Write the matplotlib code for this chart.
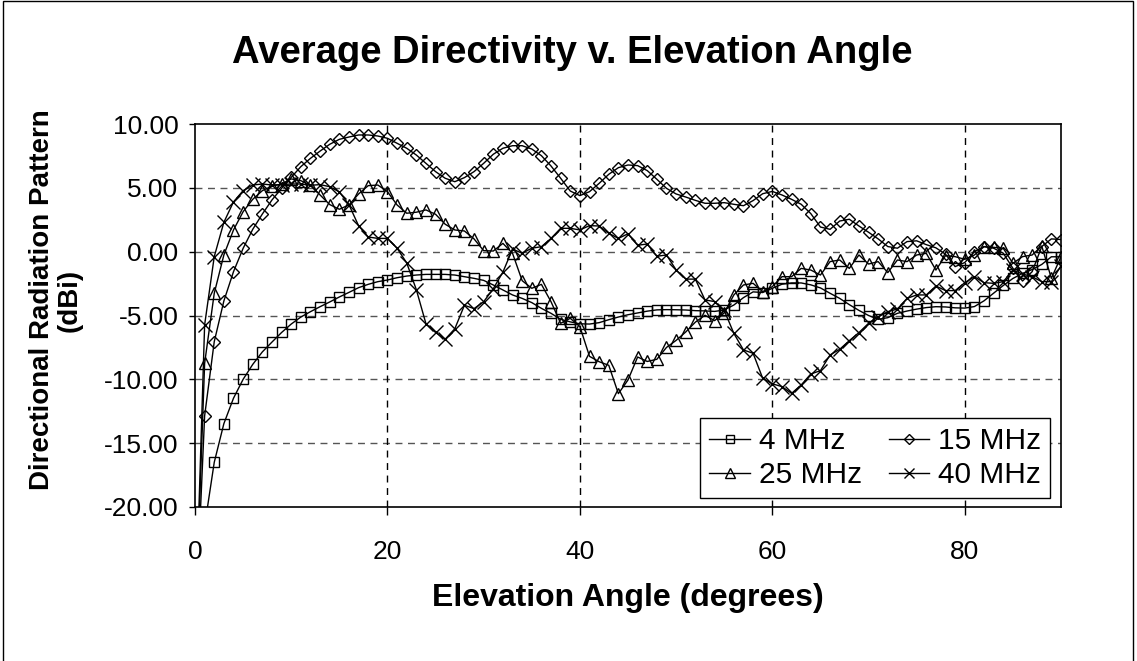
import matplotlib
matplotlib.use("Agg")
import matplotlib.pyplot as plt
from matplotlib.patches import Rectangle

plt.rcParams['font.family'] = ['Liberation Sans', 'DejaVu Sans']
plt.rcParams['axes.unicode_minus'] = False

angles = list(range(0, 91))

mhz4 = [-35, -21.5, -16.5, -13.47, -11.48, -10.0, -8.83, -7.85, -7.08, -6.33,
        -5.67, -5.12, -4.70, -4.31, -3.94, -3.55, -3.19, -2.82, -2.56, -2.35,
        -2.22, -2.04, -1.91, -1.83, -1.78, -1.78, -1.78, -1.83, -1.96, -2.09,
        -2.25, -2.61, -3.0, -3.39, -3.66, -3.99, -4.44, -4.83, -5.3, -5.5,
        -5.65, -5.67, -5.56, -5.33, -5.12, -4.94, -4.8, -4.66, -4.56, -4.54,
        -4.55, -4.57, -4.62, -4.64, -4.68, -4.57, -4.18, -3.6, -3.15, -3.2,
        -2.87, -2.55, -2.45, -2.45, -2.6, -2.84, -3.26, -3.66, -4.15, -4.6,
        -5.0, -5.3, -5.17, -4.83, -4.65, -4.5, -4.38, -4.31, -4.33, -4.4,
        -4.42, -4.3, -3.85, -3.25, -2.65, -2.1, -1.7, -1.4, -1.0, -0.4,
        -0.4]

mhz15 = [-30, -12.87, -7.05, -3.86, -1.57, 0.26, 1.75, 2.95, 4.05, 4.96,
         5.82, 6.66, 7.31, 7.88, 8.41, 8.8, 8.98, 9.14, 9.14, 9.06,
         8.88, 8.49, 8.1, 7.57, 6.92, 6.27, 5.75, 5.48, 5.8, 6.27,
         6.92, 7.63, 8.1, 8.3, 8.3, 8.04, 7.52, 6.71, 5.75, 4.75,
         4.39, 4.7, 5.35, 6.06, 6.58, 6.79, 6.74, 6.35, 5.67, 4.96,
         4.52, 4.28, 4.02, 3.79, 3.79, 3.84, 3.71, 3.6, 4.0, 4.54,
         4.72, 4.44, 4.1, 3.71, 2.98, 1.93, 1.75, 2.4, 2.54, 2.01,
         1.52, 1.0, 0.4, 0.27, 0.79, 0.85, 0.55, 0.3, -0.2, -1.17,
         -0.85, 0.0, 0.4, 0.27, -0.12, -1.3, -2.3, -1.57, 0.4, 1.0,
         0.95]

mhz25 = [-30, -8.75, -3.26, -0.26, 1.70, 3.13, 4.1, 4.78, 5.14, 5.3,
         5.7, 5.56, 5.22, 4.44, 3.69, 3.32, 3.66, 4.52, 5.17, 5.22,
         4.7, 3.66, 3.01, 3.09, 3.27, 2.93, 2.15, 1.7, 1.62, 1.0,
         0.08, 0.05, 0.65, -0.13, -2.27, -2.87, -2.56, -3.92, -5.61, -5.22,
         -5.87, -8.2, -8.62, -8.9, -11.12, -10.05, -8.25, -8.6, -8.43, -7.5,
         -6.95, -6.29, -5.52, -4.98, -5.4, -4.8, -3.39, -2.61, -2.48, -3.13,
         -2.74, -1.96, -1.96, -1.31, -1.44, -1.83, -0.78, -0.65, -1.31, -0.26,
         -0.97, -0.78, -1.64, -0.65, -0.78, -0.26, -0.13, -1.44, -0.31, -0.39,
         -0.6, -0.26, 0.39, 0.34, 0.26, -0.91, -0.39, -0.26, 0.44, -2.09,
         -0.39]

mhz40 = [-30, -5.74, -0.39, 2.3, 3.9, 4.78, 5.22, 5.3, 5.22, 5.25,
         5.3, 5.3, 5.2, 5.25, 5.09, 4.68, 3.68, 2.03, 1.15, 1.04,
         1.04, 0.27, -0.88, -2.97, -5.64, -6.33, -6.86, -6.04, -4.2, -4.46,
         -3.92, -2.9, -1.6, 0.2, -0.12, 0.27, 0.39, 1.04, 1.83, 1.83,
         1.7, 2.04, 2.01, 1.44, 1.04, 1.4, 0.5, 0.6, -0.36, -0.26,
         -1.43, -2.15, -2.15, -3.78, -3.91, -4.6, -6.4, -7.7, -7.96, -9.92,
         -10.35, -10.57, -11.1, -10.44, -9.58, -9.32, -8.09, -7.65, -6.97, -6.34,
         -5.61, -5.09, -4.7, -4.49, -3.66, -3.39, -3.39, -2.69, -3.05, -3.05,
         -2.43, -1.96, -2.43, -2.48, -2.35, -1.44, -1.75, -1.96, -2.35, -2.35,
         -1.1]

series_labels = ["4 MHz", "15 MHz", "25 MHz", "40 MHz"]
x_ticks = [0, 20, 40, 60, 80]
y_ticks = [10, 5, 0, -5, -10, -15, -20]

W, H = 1137, 661
fig = plt.figure(figsize=(W / 100, H / 100), dpi=100)
ax = fig.add_axes([195 / W, 1 - 507 / H, (1061 - 195) / W, (507 - 124) / H])

styles = [
    dict(marker='s', ms=7.0),
    dict(marker='D', ms=6.5),
    dict(marker='^', ms=9.0),
    dict(marker='x', ms=10.0),
]
handles = {}
for lab, data, st in zip(series_labels, [mhz4, mhz15, mhz25, mhz40], styles):
    ln, = ax.plot(angles, data, color='black', lw=1.0, marker=st['marker'],
                  ms=st['ms'], mfc='none', mec='black', mew=1.0, label=lab,
                  clip_on=True)
    handles[lab] = ln

ax.set_xlim(0, 90)
ax.set_ylim(-20, 10)
ax.set_xticks(x_ticks)
ax.set_yticks(y_ticks)
ax.set_yticklabels([f"{v:.2f}" for v in y_ticks])
ax.tick_params(axis='x', direction='out', length=6, width=1, pad=18, labelsize=19)
ax.tick_params(axis='y', direction='out', length=4, width=1, pad=8, labelsize=19)
for s in ax.spines.values():
    s.set_linewidth(1.2)
    s.set_color('black')

for yv in [5, 0, -5, -10, -15]:
    ax.axhline(yv, color='#555555', lw=1.0, ls=(0, (5, 4)), zorder=0.5)
for xv in [20, 40, 60, 80]:
    ax.axvline(xv, color='black', lw=1.0, ls=(0, (5, 4)), zorder=0.5)

leg_order = ["4 MHz", "25 MHz", "15 MHz", "40 MHz"]
leg = ax.legend([handles[k] for k in leg_order], leg_order, ncol=2,
                loc='lower right', bbox_to_anchor=(1050 / W, 1 - 498 / H),
                bbox_transform=fig.transFigure, borderaxespad=0,
                fontsize=21.5, frameon=True,
                fancybox=False, framealpha=1, edgecolor='black',
                handlelength=1.35, handletextpad=0.3, columnspacing=0.9,
                borderpad=0.3, labelspacing=0.2, markerscale=0.75)
leg.get_frame().set_linewidth(1.0)

fig.text(572 / W, 1 - 53 / H, "Average Directivity v. Elevation Angle",
         ha='center', va='center', fontsize=27.5, fontweight='bold')
fig.text(628 / W, 1 - 598 / H, "Elevation Angle (degrees)",
         ha='center', va='center', fontsize=23, fontweight='bold')
fig.text(56 / W, 1 - 300 / H, "Directional Radiation Pattern\n(dBi)",
         ha='center', va='center', rotation=90, fontsize=20,
         fontweight='bold', multialignment='center', linespacing=1.1)

fig.patches.append(Rectangle((3 / W, -0.02), 1130 / W, 1.02 - 1 / H,
                             transform=fig.transFigure, fill=False,
                             edgecolor='black', lw=1.0))

fig.savefig("out.png", dpi=100)
